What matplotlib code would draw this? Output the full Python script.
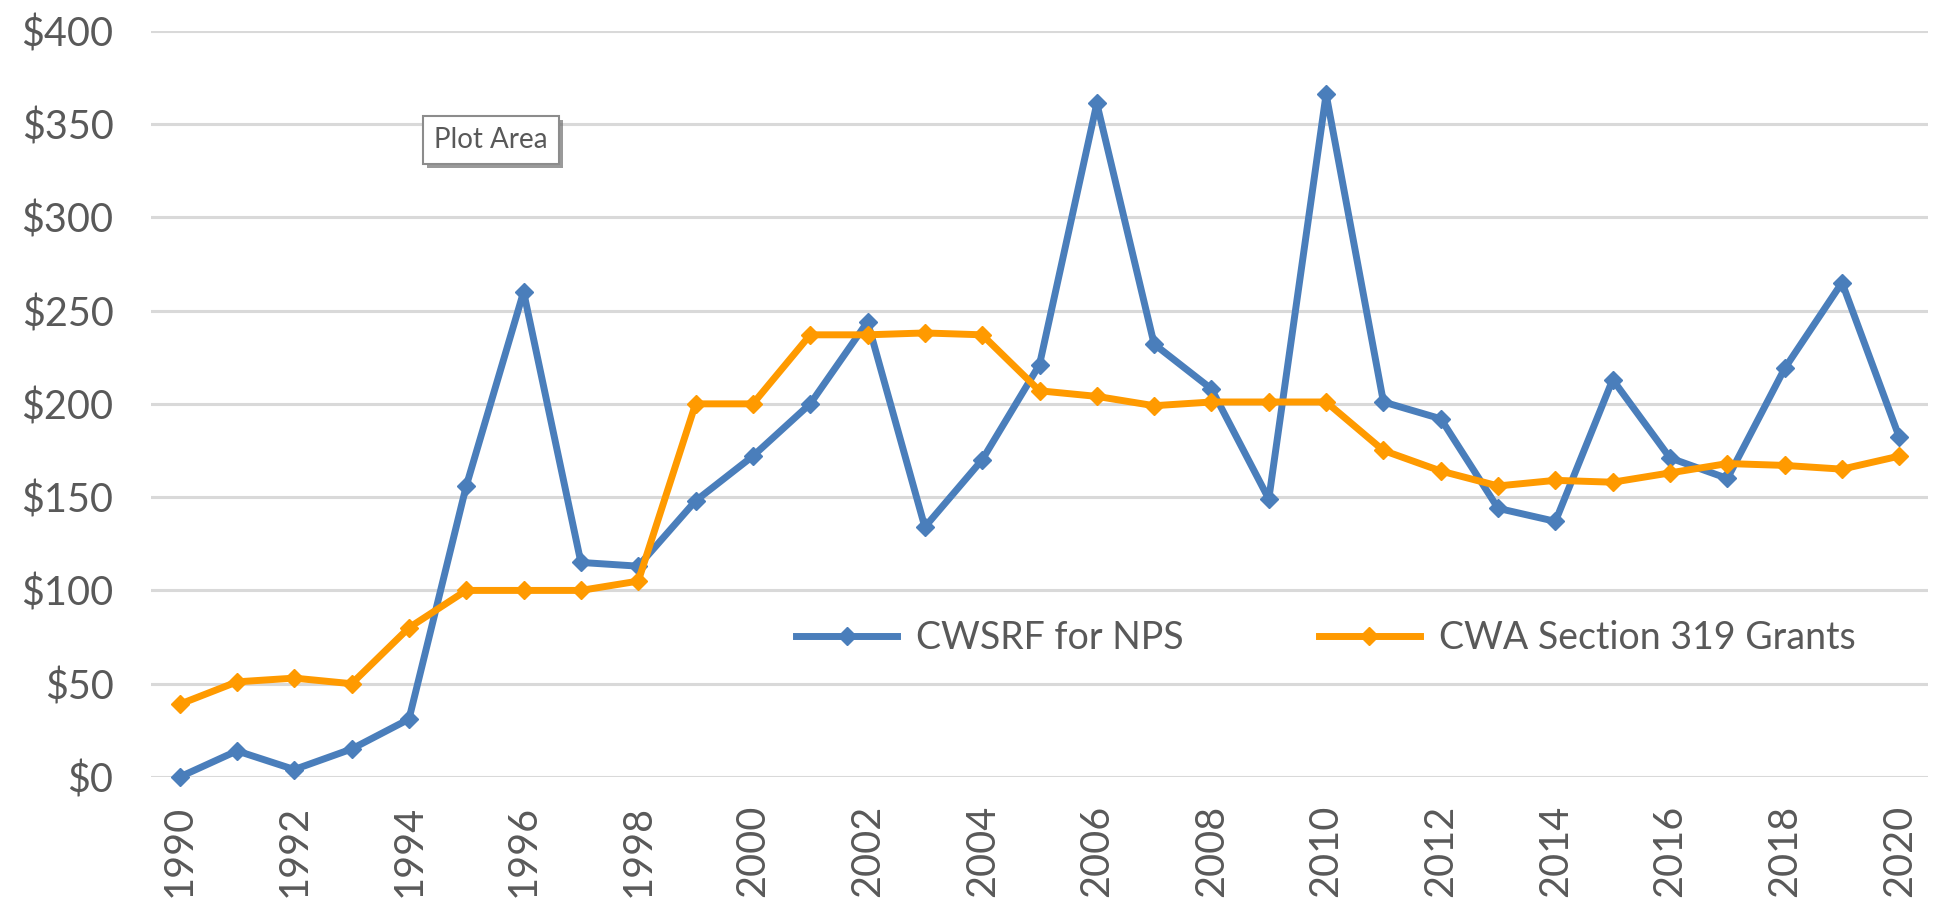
import matplotlib
matplotlib.use("Agg")
import matplotlib.pyplot as plt
import matplotlib.patheffects as pe
from matplotlib.ticker import FuncFormatter

plt.rcParams["font.family"] = ["Lato", "DejaVu Sans"]

years = list(range(1990, 2021))

# millions of dollars
cwsrf_nps = [0, 14, 4, 15, 31, 156, 260, 115, 113, 148,
             172, 200, 244, 134, 170, 221, 361, 232, 208, 149,
             366, 201, 192, 144, 137, 213, 171, 160, 219, 265, 182]
section_319 = [39, 51, 53, 50, 80, 100, 100, 100, 105, 200,
               200, 237, 237, 238, 237, 207, 204, 199, 201, 201,
               201, 175, 164, 156, 159, 158, 163, 168, 167, 165, 172]

BLUE = "#4A7EBB"
ORANGE = "#FF9A00"
GREY = "#595959"

fig = plt.figure(figsize=(19.4, 9.07), dpi=100)
ax = fig.add_axes([151/1940, 1 - 777/907, (1928 - 151)/1940, (777 - 30.7)/907])

x = list(range(len(years)))
ax.plot(x, cwsrf_nps, color=BLUE, lw=5, marker="D", ms=9, label="CWSRF for NPS",
        clip_on=False, zorder=3)
ax.plot(x, section_319, color=ORANGE, lw=5, marker="D", ms=9,
        label="CWA Section 319 Grants", clip_on=False, zorder=3)

ax.set_xlim(-0.5, len(years) - 0.5)
ax.set_ylim(0, 400)
ax.set_yticks(range(0, 401, 50))
ax.yaxis.set_major_formatter(FuncFormatter(lambda v, p: "${:,.0f}".format(v)))
ax.set_xticks(x[::2])
ax.set_xticklabels([str(y) for y in years[::2]], rotation=90)

ax.grid(axis="y", color="#D9D9D9", lw=2.2)
ax.set_axisbelow(True)
for s in ax.spines.values():
    s.set_visible(False)
ax.tick_params(axis="both", length=0, labelsize=28.5, colors=GREY)
ax.tick_params(axis="y", pad=27)
ax.tick_params(axis="x", pad=20)

leg = ax.legend(loc="center", bbox_to_anchor=(0.661, 0.186), ncol=2, frameon=False,
                fontsize=27, handlelength=2.7, handletextpad=0.5, columnspacing=3.6)
for t in leg.get_texts():
    t.set_color(GREY)

# the Excel tooltip left in the screenshot
tip = ax.text((491 - 151)/1777, (777 - 140)/746.3, "Plot Area", transform=ax.transAxes,
              ha="center", va="center", fontsize=20, color=GREY,
              bbox=dict(boxstyle="square,pad=0.4", fc="white", ec="#8C8C8C", lw=1.5))
tip.get_bbox_patch().set_path_effects([
    pe.SimplePatchShadow(offset=(3, -3), shadow_rgbFace="#707070", alpha=0.7),
    pe.Normal()])

fig.savefig("out.png", dpi=100)
